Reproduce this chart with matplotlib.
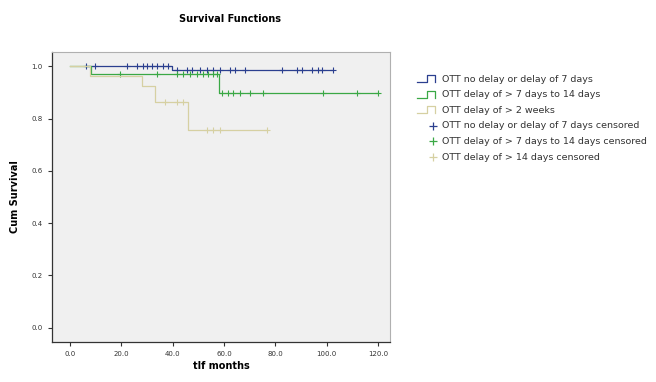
import matplotlib
matplotlib.use("Agg")
import matplotlib.pyplot as plt
from matplotlib.legend_handler import HandlerBase
from matplotlib.lines import Line2D

# step curves: (time, survival) change points, last point = end of follow-up
blue_t = [5.8, 39.6, 102.5]
blue_s = [1.0, 0.985, 0.985]
green_t = [0.0, 8.4, 58.0, 120.0]
green_s = [1.0, 0.971, 0.899, 0.899]
tan_t = [0.0, 8.0, 28.0, 33.0, 46.0, 76.7]
tan_s = [1.0, 0.962, 0.925, 0.862, 0.755, 0.755]

# censored observations
blue_cens = [6.2, 9.7, 22.2, 26.1, 28.4, 30.0, 31.9, 33.9, 36.2, 38.2,
             41.7, 45.6, 47.5, 50.6, 53.4, 55.7, 58.4, 62.3, 64.3, 68.2,
             82.6, 88.4, 90.4, 94.3, 96.6, 98.2, 102.5]
green_cens = [19.5, 34.0, 41.7, 44.0, 46.7, 49.5, 51.8, 53.8, 55.7, 57.3,
              59.2, 61.5, 63.5, 66.2, 70.1, 75.2, 98.6, 111.8, 120.0]
tan_cens = [37.0, 41.7, 44.0, 53.4, 55.7, 58.4, 76.7]

labels = ["OTT no delay or delay of 7 days",
          "OTT delay of > 7 days to 14 days",
          "OTT delay of > 2 weeks",
          "OTT no delay or delay of 7 days censored",
          "OTT delay of > 7 days to 14 days censored",
          "OTT delay of > 14 days censored"]

BLUE, GREEN, TAN = "#2b3f8f", "#3aa845", "#d6d0a2"


def surv_at(times, surv, x):
    s = surv[0]
    for t, v in zip(times, surv):
        if x >= t:
            s = v
    return s


class StepHandler(HandlerBase):
    def create_artists(self, legend, orig, xd, yd, w, h, fontsize, trans):
        xs = [0, w * 0.45, w * 0.45, w * 0.85, w * 0.85]
        ys = [-h * 0.1, -h * 0.1, h * 1.0, h * 1.0, -h * 0.1]
        ln = Line2D([x - xd for x in xs], [y - yd for y in ys],
                    color=orig.get_color(), lw=0.9, transform=trans)
        return [ln]


class CensHandler(HandlerBase):
    def create_artists(self, legend, orig, xd, yd, w, h, fontsize, trans):
        m = Line2D([w * 0.75 - xd], [h * 0.4 - yd], marker="+", ls="none",
                   color=orig.get_color(), ms=5.5, mew=0.9, transform=trans)
        return [m]


fig = plt.figure(figsize=(6.56, 3.82), dpi=100)
ax = fig.add_axes([0.079, 0.105, 0.516, 0.759])
ax.set_facecolor("#f0f0f0")

curves = [(blue_t, blue_s, blue_cens, BLUE), (green_t, green_s, green_cens, GREEN),
          (tan_t, tan_s, tan_cens, TAN)]
step_handles = []
cens_handles = []
for t, s, c, col in curves:
    h, = ax.step(t, s, where="post", color=col, lw=0.9)
    step_handles.append(h)
    m, = ax.plot(c, [surv_at(t, s, x) for x in c], "+", color=col, ms=4, mew=0.8, ls="none")
    cens_handles.append(m)

ax.set_xlim(-7, 124.7)
ax.set_ylim(-0.054, 1.055)
ax.set_xticks([0, 20, 40, 60, 80, 100, 120])
ax.set_xticklabels([f"{v:.1f}" for v in [0, 20, 40, 60, 80, 100, 120]])
ax.set_yticks([0, 0.2, 0.4, 0.6, 0.8, 1.0])
ax.set_yticklabels([f"{v:.1f}" for v in [0, 0.2, 0.4, 0.6, 0.8, 1.0]])
ax.tick_params(labelsize=5, length=3, width=0.8, color="#333333", labelcolor="#333333")
for side in ["top", "right"]:
    ax.spines[side].set_color("#b0b0b0")
    ax.spines[side].set_linewidth(0.8)
for side in ["left", "bottom"]:
    ax.spines[side].set_color("#333333")
    ax.spines[side].set_linewidth(0.9)

ax.set_xlabel("tlf months", fontsize=7, fontweight="bold", labelpad=3)
ax.set_ylabel("Cum Survival", fontsize=7, fontweight="bold", labelpad=8)
fig.text(0.35, 0.95, "Survival Functions", fontsize=7, fontweight="bold", ha="center", va="center")

handler_map = {h: StepHandler() for h in step_handles}
handler_map.update({h: CensHandler() for h in cens_handles})
leg = fig.legend(step_handles + cens_handles, labels, loc="upper left",
                 bbox_to_anchor=(0.623, 0.827), frameon=False, fontsize=6.8,
                 handlelength=2.2, handletextpad=0.4, labelspacing=0.7,
                 handler_map=handler_map)
for t in leg.get_texts():
    t.set_color("#333333")

fig.savefig("out.png", dpi=100, facecolor="white")
